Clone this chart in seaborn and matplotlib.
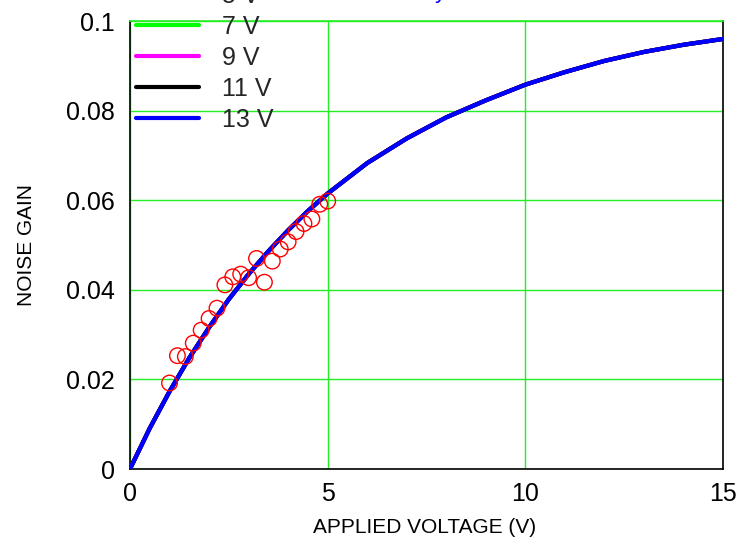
import numpy as np
import pandas as pd
import matplotlib
matplotlib.use("Agg")
import matplotlib.pyplot as plt
import seaborn as sns

# ---- data ----
curve_voltage = [0, 0.5, 1, 1.5, 2, 2.5, 3, 3.5, 4, 4.5, 5, 6, 7, 8, 9, 10, 11, 12, 13, 14, 15]
curve_gain = [0, 0.0091, 0.0173, 0.0248, 0.0316, 0.0379, 0.0435, 0.0486, 0.0533, 0.0576,
              0.0615, 0.0683, 0.0738, 0.0785, 0.0823, 0.0858, 0.0886, 0.0911, 0.0931, 0.0947, 0.0960]
series_labels = ["5 V", "7 V", "9 V", "11 V", "13 V"]
series_colors = ["#ff0000", "#00ff00", "#ff00ff", "#000000", "#0000ff"]

meas_voltage = [1.0, 1.2, 1.4, 1.6, 1.8, 2.0, 2.2, 2.4, 2.6, 2.8, 3.0,
                3.2, 3.4, 3.6, 3.8, 4.0, 4.2, 4.4, 4.6, 4.8, 5.0]
meas_gain = [0.0192, 0.0253, 0.0251, 0.0281, 0.0310, 0.0336, 0.0359, 0.0411, 0.0429, 0.0435, 0.0427,
             0.0470, 0.0417, 0.0464, 0.0491, 0.0507, 0.0530, 0.0548, 0.0558, 0.0591, 0.0598]

x_ticks = [0, 5, 10, 15]
x_ticklabels = ["0", "5", "10", "15"]
y_ticks = [0, 0.02, 0.04, 0.06, 0.08, 0.1]
y_ticklabels = ["0", "0.02", "0.04", "0.06", "0.08", "0.1"]

sns.set_style("white")
plt.rcParams["font.family"] = ["Liberation Sans", "DejaVu Sans"]

fig = plt.figure(figsize=(7.47, 5.46), dpi=100)
ax = fig.add_axes([0.174, 0.141, 0.794, 0.8205])

rows = []
for lab in series_labels:
    for v, g in zip(curve_voltage, curve_gain):
        rows.append({"voltage": v, "gain": g, "series": lab})
df_curves = pd.DataFrame(rows)

sns.lineplot(data=df_curves, x="voltage", y="gain", hue="series",
             hue_order=series_labels, palette=series_colors, linewidth=3.0,
             ax=ax, legend=False, zorder=3)

df_meas = pd.DataFrame({"voltage": meas_voltage, "gain": meas_gain})
sns.scatterplot(data=df_meas, x="voltage", y="gain", ax=ax, marker="o", s=125,
                facecolors="none", edgecolor="#ff0000", linewidth=1.0, zorder=4)

ax.set_xlim(0, 15)
ax.set_ylim(0, 0.1)
ax.set_xticks(x_ticks)
ax.set_xticklabels(x_ticklabels)
ax.set_yticks(y_ticks)
ax.set_yticklabels(y_ticklabels)
ax.tick_params(axis="both", length=0, labelsize=18, colors="black")
ax.tick_params(axis="x", pad=9)
ax.tick_params(axis="y", pad=11)

ax.grid(True, color="#22ee22", linewidth=1.0)
ax.set_axisbelow(True)
for side in ["left", "bottom", "right"]:
    ax.spines[side].set_color("black")
    ax.spines[side].set_linewidth(1.2)
ax.spines["top"].set_color("#22ee22")
ax.spines["top"].set_linewidth(1.2)

ax.set_xlabel("APPLIED VOLTAGE (V)", fontsize=15, color="black")
ax.set_ylabel("NOISE GAIN", fontsize=15, color="black")
ax.xaxis.set_label_coords(0.496, -0.11)
ax.yaxis.set_label_coords(-0.158, 0.5)

handles = [plt.Line2D([], [], color=c, linewidth=3.0) for c in series_colors]
fig.legend(handles, series_labels, loc="upper left", bbox_to_anchor=(0.1827, 1.0295),
           frameon=False, fontsize=18, handlelength=2.5, handletextpad=0.92,
           labelspacing=0.28, borderpad=0, borderaxespad=0)

fig.text(0.582, 1.003, "y", color="#0000ff", fontsize=16, va="baseline")

fig.savefig("out.png", dpi=100)
